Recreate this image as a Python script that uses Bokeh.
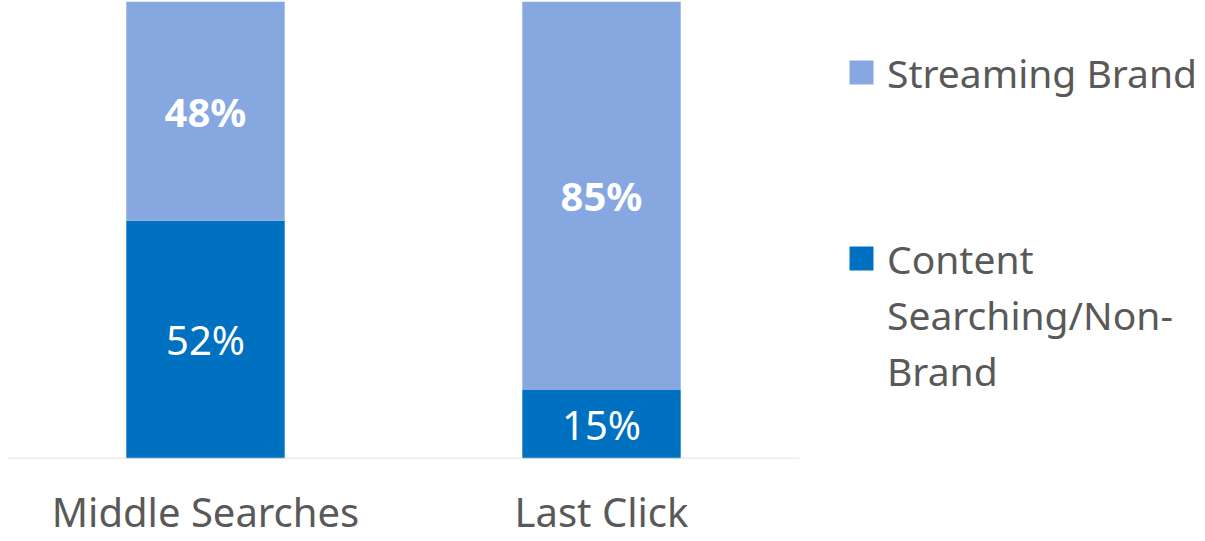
from bokeh.plotting import figure
from bokeh.models import ColumnDataSource, Range1d, Legend, LegendItem, LabelSet, FixedTicker
from bokeh.core.properties import value
from bokeh.embed import file_html
from bokeh.resources import INLINE

categories = ["Middle Searches", "Last Click"]
content_share = [0.52, 0.15]
streaming_share = [0.48, 0.85]
content_labels = ["52%", "15%"]
streaming_labels = ["48%", "85%"]
series_names = ["Streaming Brand", "Content Searching/Non-Brand"]

DARK = "#0070C0"
LIGHT = "#86A7E0"
TEXT = "#595959"
FONT = "Noto Sans"

xpos = [i + 0.5 for i in range(len(categories))]
content_mid = [c / 2 for c in content_share]
streaming_mid = [c + s / 2 for c, s in zip(content_share, streaming_share)]

src = ColumnDataSource(dict(
    x=xpos,
    content=content_share,
    streaming=streaming_share,
    content_mid=content_mid,
    streaming_mid=streaming_mid,
    content_lbl=content_labels,
    streaming_lbl=streaming_labels,
))

# frame spans the full width so the legend at the right is not clipped;
# the category slots occupy x in [0, 2]
p = figure(x_range=Range1d(0, 1198 / 396), y_range=Range1d(0, 1),
           width=1205, height=541,
           min_border_left=7, min_border_right=0,
           min_border_top=1, min_border_bottom=10,
           output_backend="svg", toolbar_location=None)

rs = p.vbar_stack(["content", "streaming"], x="x", width=0.4,
                  color=[DARK, LIGHT], line_color=None, source=src)

# category baseline (axis line) only under the category slots
p.segment(x0=[0], x1=[len(categories)], y0=[0], y1=[0],
          line_color="#D9D9D9", line_width=1.5)

p.add_layout(LabelSet(x="x", y="content_mid", text="content_lbl", source=src,
                      text_align="center", text_baseline="middle",
                      text_color="white", text_font=value(FONT),
                      text_font_size="40px"))
p.add_layout(LabelSet(x="x", y="streaming_mid", text="streaming_lbl", source=src,
                      text_align="center", text_baseline="middle",
                      text_color="white", text_font=value(FONT),
                      text_font_size="40px", text_font_style="bold"))

p.yaxis.visible = False
p.xgrid.grid_line_color = None
p.ygrid.grid_line_color = None
p.outline_line_color = None
p.xaxis.ticker = FixedTicker(ticks=xpos)
p.xaxis.major_label_overrides = {x: c for x, c in zip(xpos, categories)}
p.xaxis.axis_line_color = None
p.xaxis.major_tick_line_color = None
p.xaxis.minor_tick_line_color = None
p.xaxis.major_tick_out = 0
p.xaxis.major_tick_in = 0
p.xaxis.major_label_text_font = FONT
p.xaxis.major_label_text_font_size = "40px"
p.xaxis.major_label_text_color = TEXT
p.xaxis.major_label_standoff = 25

# invisible renderer for continuation lines of the wrapped legend label
blank = p.scatter(x=[0], y=[0], size=0, alpha=0)

def make_legend(items, loc):
    return Legend(items=items, location=loc, orientation="vertical",
                  padding=0, margin=0, spacing=0,
                  glyph_width=30, glyph_height=30, label_height=56,
                  label_standoff=11, border_line_color=None,
                  background_fill_alpha=0,
                  label_text_font=FONT, label_text_font_size="39px",
                  label_text_color=TEXT)

leg_a = make_legend([LegendItem(label=series_names[0], renderers=[rs[1]])], (839, 358))
leg_b = make_legend([LegendItem(label="Content", renderers=[rs[0]]),
                     LegendItem(label="Searching/Non-", renderers=[blank]),
                     LegendItem(label="Brand", renderers=[blank])], (839, 60))
p.add_layout(leg_a, "center")
p.add_layout(leg_b, "center")

open("out.html", "w").write(file_html(p, INLINE))
